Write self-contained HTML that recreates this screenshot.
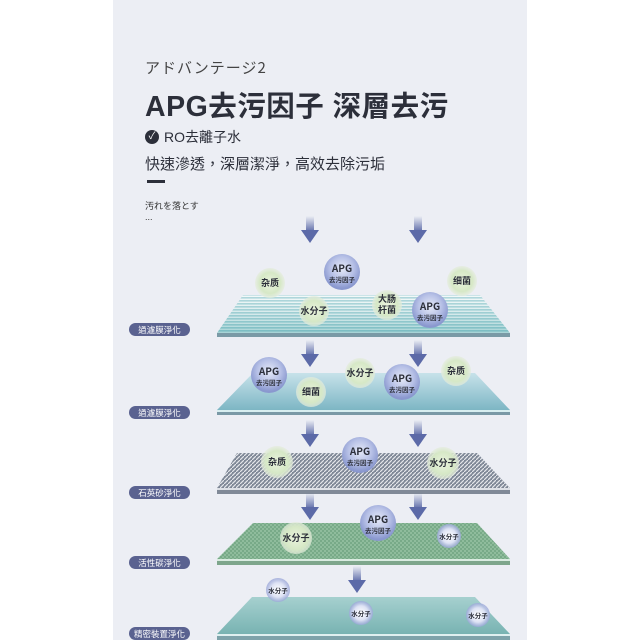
<!DOCTYPE html>
<html><head><meta charset="utf-8"><style>
html,body{margin:0;padding:0;background:#fff;}
body{width:640px;height:640px;overflow:hidden;position:relative;font-family:"Liberation Sans","Noto Sans CJK JP",sans-serif;}
.panel{position:absolute;left:113px;top:0;width:414px;height:640px;background:#eceef4;}
.t{position:absolute;color:#2c2f3a;white-space:nowrap;}
</style></head><body>
<div class="panel"></div>
<div class="t" style="left:145px;top:57px;font-size:15px;color:#444;letter-spacing:1px;font-family:'Noto Sans CJK JP',sans-serif;">アドバンテージ2</div>
<div class="t" style="left:145px;top:84px;font-size:28.5px;font-weight:bold;letter-spacing:0.5px;font-family:'Liberation Sans','Noto Sans CJK SC',sans-serif;">APG去污因子 深層去污</div>
<div style="position:absolute;left:145px;top:130px;width:14px;height:14px;border-radius:50%;background:#2c2f3a;color:#fff;font-size:10px;text-align:center;line-height:14px;">✓</div>
<div class="t" style="left:164px;top:127px;font-size:14px;font-family:'Liberation Sans','Noto Sans CJK TC',sans-serif;">RO去離子水</div>
<div class="t" style="left:145px;top:153px;font-size:15px;font-family:'Noto Sans CJK TC',sans-serif;">快速滲透，深層潔淨，高效去除污垢</div>
<div style="position:absolute;left:147px;top:180px;width:18px;height:3px;background:#2c2f3a;"></div>
<div class="t" style="left:145px;top:199px;font-size:9px;color:#333;font-family:'Noto Sans CJK JP',sans-serif;">汚れを落とす</div>
<div class="t" style="left:145px;top:212px;font-size:9px;color:#333;">...</div>
<svg width="640" height="640" style="position:absolute;left:0;top:0" xmlns="http://www.w3.org/2000/svg">
<defs>
<pattern id="stripes" width="4" height="3" patternUnits="userSpaceOnUse"><rect width="4" height="3" fill="#eef6f7"/><rect width="4" height="1.6" fill="#8fc6cd"/></pattern>
<linearGradient id="l1g" x1="0" y1="0" x2="0" y2="1"><stop offset="0" stop-color="#fff" stop-opacity="0.3"/><stop offset="1" stop-color="#5fb0b4" stop-opacity="0.5"/></linearGradient>
<linearGradient id="l2g" x1="0" y1="0" x2="0" y2="1"><stop offset="0" stop-color="#c7e2ea"/><stop offset="1" stop-color="#7db6c4"/></linearGradient>
<pattern id="gray" width="4" height="4" patternUnits="userSpaceOnUse"><rect width="4" height="4" fill="#7e8796"/><path d="M0 4L4 0" stroke="#e4e6ea" stroke-width="1.2"/></pattern>
<pattern id="green" width="4" height="4" patternUnits="userSpaceOnUse"><rect width="4" height="4" fill="#8fbc9c"/><rect width="2" height="2" fill="#78aa88"/><rect x="2" y="2" width="2" height="2" fill="#78aa88"/></pattern>
<linearGradient id="l5g" x1="0" y1="0" x2="0" y2="1"><stop offset="0" stop-color="#a6d0cf"/><stop offset="1" stop-color="#78b3b2"/></linearGradient>
<radialGradient id="gc" cx="0.5" cy="0.5" r="0.5"><stop offset="0" stop-color="#eaf3de"/><stop offset="0.7" stop-color="#d6e8c6"/><stop offset="1" stop-color="#e4ecdc" stop-opacity="0.7"/></radialGradient>
<radialGradient id="bc" cx="0.5" cy="0.4" r="0.55"><stop offset="0" stop-color="#e6eaf8"/><stop offset="0.6" stop-color="#b6c0e6"/><stop offset="1" stop-color="#8a98cf"/></radialGradient>
<radialGradient id="sc" cx="0.5" cy="0.5" r="0.5"><stop offset="0" stop-color="#ffffff"/><stop offset="0.6" stop-color="#dde2f4"/><stop offset="1" stop-color="#9aa6d8" stop-opacity="0.8"/></radialGradient>
<linearGradient id="ag" x1="0" y1="0" x2="0" y2="1"><stop offset="0" stop-color="#5c6aa8" stop-opacity="0"/><stop offset="1" stop-color="#5c6aa8"/></linearGradient>
<g id="arrow"><rect x="-4" y="0" width="8" height="16" fill="url(#ag)"/><path d="M-9 14L9 14L0 27Z" fill="#5c6aa8"/></g>
</defs>
<path d="M243 295H480L510 333H217Z" fill="url(#stripes)"/><path d="M243 295H480L510 333H217Z" fill="url(#l1g)"/>
<rect x="217" y="333" width="293" height="4" fill="#7a9aa6"/>
<path d="M253 373H475L510 410H217Z" fill="url(#l2g)"/>
<rect x="217" y="410" width="293" height="2" fill="#d8eef0"/><rect x="217" y="412" width="293" height="3" fill="#7a99a6"/>
<path d="M237 453H477L510 488H217Z" fill="url(#gray)"/>
<rect x="217" y="488" width="293" height="2" fill="#dde0e6"/><rect x="217" y="490" width="293" height="4" fill="#808997"/>
<path d="M253 523H477L510 559H217Z" fill="url(#green)"/>
<rect x="217" y="559" width="293" height="2" fill="#d9ebe0"/><rect x="217" y="561" width="293" height="4" fill="#7ea68c"/>
<path d="M252 597H475L510 634H217Z" fill="url(#l5g)"/>
<rect x="217" y="634" width="293" height="2" fill="#dff0f0"/><rect x="217" y="636" width="293" height="4" fill="#7ea3aa"/>
<use href="#arrow" x="310" y="216"/><use href="#arrow" x="418" y="216"/>
<use href="#arrow" x="310" y="340"/><use href="#arrow" x="418" y="340"/>
<use href="#arrow" x="310" y="420"/><use href="#arrow" x="418" y="420"/>
<use href="#arrow" x="310" y="493"/><use href="#arrow" x="418" y="493"/>
<use href="#arrow" x="357" y="566"/>
<g font-family="Noto Sans CJK TC,sans-serif" font-size="8.5" fill="#fff" text-anchor="middle">
<rect x="129" y="323" width="61" height="13" rx="6.5" fill="#5a6290"/><text x="159.5" y="333">過濾膜淨化</text>
<rect x="129" y="406" width="61" height="13" rx="6.5" fill="#5a6290"/><text x="159.5" y="416">過濾膜淨化</text>
<rect x="129" y="486" width="61" height="13" rx="6.5" fill="#5a6290"/><text x="159.5" y="496">石英砂淨化</text>
<rect x="129" y="556" width="61" height="13" rx="6.5" fill="#5a6290"/><text x="159.5" y="566">活性碳淨化</text>
<rect x="129" y="627" width="61" height="13" rx="6.5" fill="#5a6290"/><text x="159.5" y="637">精密裝置淨化</text>
</g>
<g font-family="Noto Sans CJK SC,sans-serif" font-weight="bold" fill="#2c2f3a" text-anchor="middle">
<g font-size="9">
<circle cx="270" cy="283" r="15" fill="url(#gc)"/><text x="270" y="286">杂质</text>
<circle cx="462" cy="281" r="15" fill="url(#gc)"/><text x="462" y="284">细菌</text>
<circle cx="314" cy="311" r="15" fill="url(#gc)"/><text x="314" y="314">水分子</text>
<circle cx="387" cy="305" r="15" fill="url(#gc)"/><text x="387" y="302">大肠</text><text x="387" y="313">杆菌</text>
<circle cx="311" cy="392" r="15" fill="url(#gc)"/><text x="311" y="395">细菌</text>
<circle cx="360" cy="373" r="15" fill="url(#gc)"/><text x="360" y="376">水分子</text>
<circle cx="456" cy="371" r="15" fill="url(#gc)"/><text x="456" y="374">杂质</text>
<circle cx="277" cy="462" r="16" fill="url(#gc)"/><text x="277" y="465">杂质</text>
<circle cx="443" cy="463" r="16" fill="url(#gc)"/><text x="443" y="466">水分子</text>
<circle cx="296" cy="538" r="16" fill="url(#gc)"/><text x="296" y="541">水分子</text>
</g>
<g>
<circle cx="342" cy="272" r="18" fill="url(#bc)"/><text x="342" y="272" font-size="10">APG</text><text x="342" y="282" font-size="6.5">去污因子</text>
<circle cx="430" cy="310" r="18" fill="url(#bc)"/><text x="430" y="310" font-size="10">APG</text><text x="430" y="320" font-size="6.5">去污因子</text>
<circle cx="269" cy="375" r="18" fill="url(#bc)"/><text x="269" y="375" font-size="10">APG</text><text x="269" y="385" font-size="6.5">去污因子</text>
<circle cx="402" cy="382" r="18" fill="url(#bc)"/><text x="402" y="382" font-size="10">APG</text><text x="402" y="392" font-size="6.5">去污因子</text>
<circle cx="360" cy="455" r="18" fill="url(#bc)"/><text x="360" y="455" font-size="10">APG</text><text x="360" y="465" font-size="6.5">去污因子</text>
<circle cx="378" cy="523" r="18" fill="url(#bc)"/><text x="378" y="523" font-size="10">APG</text><text x="378" y="533" font-size="6.5">去污因子</text>
</g>
<g font-size="6.5">
<circle cx="449" cy="536" r="12" fill="url(#sc)"/><text x="449" y="539">水分子</text>
<circle cx="278" cy="590" r="12" fill="url(#sc)"/><text x="278" y="593">水分子</text>
<circle cx="361" cy="613" r="12" fill="url(#sc)"/><text x="361" y="616">水分子</text>
<circle cx="478" cy="615" r="12" fill="url(#sc)"/><text x="478" y="618">水分子</text>
</g>
</g>
</svg>
</body></html>
